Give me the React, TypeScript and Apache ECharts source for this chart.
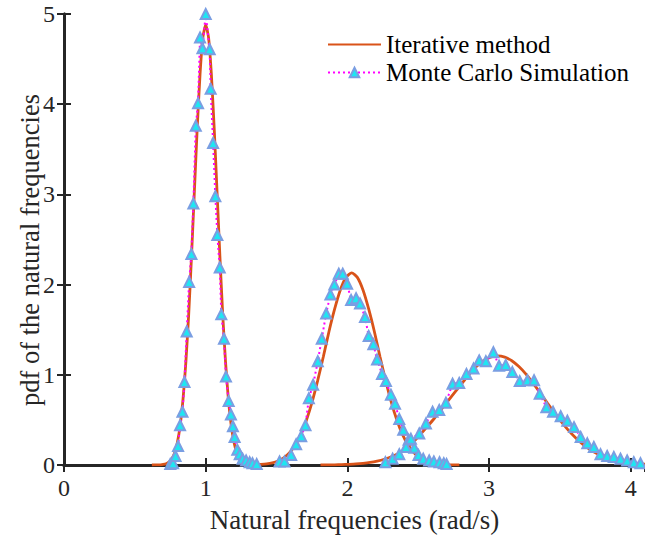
import React, { useEffect, useRef } from "react";
import * as echarts from "echarts";

// Iterative method (three modal pdf curves)
const iterX1 = [0.62,0.66,0.68,0.70,0.72,0.74,0.76,0.78,0.80,0.82,0.84,0.86,0.88,0.90,0.92,0.94,0.96,0.98,1.00,1.02,1.04,1.06,1.08,1.10,1.12,1.14,1.16,1.18,1.20,1.22,1.24,1.26,1.28,1.30,1.32,1.34,1.38];
const iterY1 = [0,0.001,0.002,0.006,0.014,0.032,0.067,0.13,0.25,0.44,0.73,1.14,1.67,2.32,3.03,3.73,4.33,4.74,4.88,4.74,4.33,3.73,3.03,2.32,1.67,1.14,0.73,0.44,0.25,0.13,0.067,0.032,0.014,0.006,0.002,0.001,0];
const iterX2 = [1.27,1.31,1.35,1.39,1.43,1.47,1.51,1.55,1.59,1.63,1.67,1.71,1.75,1.79,1.83,1.87,1.91,1.95,1.99,2.03,2.07,2.11,2.15,2.19,2.23,2.27,2.31,2.35,2.39,2.43,2.47,2.51,2.55,2.59,2.63,2.67,2.71,2.75,2.79];
const iterY2 = [0,0.001,0.003,0.006,0.012,0.024,0.045,0.079,0.134,0.216,0.334,0.493,0.694,0.935,1.20,1.48,1.73,1.94,2.08,2.13,2.08,1.94,1.73,1.48,1.20,0.935,0.694,0.493,0.334,0.216,0.134,0.079,0.045,0.024,0.012,0.006,0.003,0.001,0];
const iterX3 = [1.81,1.86,1.91,1.96,2.01,2.06,2.11,2.16,2.21,2.26,2.31,2.36,2.41,2.46,2.51,2.56,2.61,2.66,2.71,2.76,2.81,2.86,2.91,2.96,3.01,3.06,3.11,3.16,3.21,3.26,3.31,3.36,3.41,3.46,3.51,3.56,3.61,3.66,3.71,3.76,3.81,3.86,3.91,3.96,4.01,4.06,4.11];
const iterY3 = [0,0.001,0.002,0.005,0.008,0.012,0.019,0.029,0.044,0.064,0.091,0.128,0.174,0.25,0.33,0.42,0.51,0.61,0.71,0.81,0.908,1.007,1.091,1.156,1.196,1.21,1.196,1.156,1.091,1.007,0.908,0.800,0.689,0.580,0.477,0.384,0.302,0.232,0.174,0.128,0.091,0.064,0.044,0.029,0.019,0.012,0.008];

// Monte Carlo simulation (histogram pdf points)
const mcX1 = [0.75,0.77,0.787,0.805,0.819,0.836,0.85,0.866,0.883,0.899,0.913,0.930,0.946,0.960,0.977,1.0,1.028,1.035,1.052,1.068,1.082,1.099,1.11,1.129,1.143,1.162,1.178,1.192,1.204,1.223,1.24,1.26,1.285,1.31,1.33,1.36];
const mcY1 = [0.01,0.02,0.10,0.21,0.44,0.59,0.92,1.48,2.03,2.34,2.90,3.76,4.01,4.74,4.62,5.0,4.61,4.17,3.57,2.98,2.55,2.19,1.67,1.40,0.98,0.71,0.56,0.43,0.31,0.17,0.12,0.07,0.05,0.03,0.02,0.01];
const mcX2 = [1.521,1.556,1.603,1.638,1.674,1.704,1.728,1.758,1.791,1.819,1.850,1.880,1.908,1.939,1.967,1.998,2.026,2.061,2.089,2.124,2.150,2.183,2.209,2.244,2.272,2.307,2.336,2.366,2.394,2.432,2.472,2.502,2.535,2.577,2.61,2.65,2.68,2.70];
const mcY2 = [0.04,0.04,0.11,0.23,0.32,0.44,0.74,0.89,1.15,1.40,1.68,1.89,2.0,2.12,2.12,2.01,1.83,1.85,1.79,1.64,1.43,1.34,1.17,1.01,0.93,0.78,0.68,0.51,0.39,0.28,0.19,0.11,0.07,0.05,0.04,0.03,0.02,0.01];
const mcX3 = [2.268,2.319,2.366,2.413,2.448,2.507,2.554,2.601,2.648,2.695,2.742,2.789,2.840,2.890,2.930,2.977,3.030,3.070,3.117,3.164,3.216,3.27,3.317,3.357,3.404,3.451,3.505,3.552,3.599,3.646,3.693,3.739,3.786,3.833,3.880,3.927,3.974,4.021,4.068];
const mcY3 = [0.03,0.07,0.12,0.20,0.29,0.35,0.46,0.59,0.61,0.69,0.90,0.91,1.01,1.07,1.16,1.15,1.25,1.10,1.11,1.03,0.93,0.94,0.94,0.79,0.64,0.59,0.54,0.49,0.42,0.31,0.24,0.20,0.12,0.10,0.09,0.07,0.05,0.03,0.02];

const ITER_NAME = "Iterative method";
const MC_NAME = "Monte Carlo Simulation";
const X_LABEL = "Natural frequencies (rad/s)";
const Y_LABEL = "pdf of the natural frequencies";

const FONT = '"Liberation Serif", "Times New Roman", serif';
const AXIS_COLOR = "#262626";

const zip = (xs: number[], ys: number[]) => xs.map((x, i) => [x, ys[i]]);

export default function App() {
  const ref = useRef<HTMLDivElement>(null);
  useEffect(() => {
    if (!ref.current) return;
    const chart = echarts.init(ref.current, null, { renderer: "svg" });
    const iterSeries = [zip(iterX1, iterY1), zip(iterX2, iterY2), zip(iterX3, iterY3)].map((d) => ({
      name: ITER_NAME,
      type: "line",
      data: d,
      showSymbol: false,
      symbol: "none",
      smooth: 0.2,
      lineStyle: { color: "#D95319", width: 2.8 },
      itemStyle: { color: "#D95319", opacity: 0 },
      z: 2,
    }));
    const mcSeries = [zip(mcX1, mcY1), zip(mcX2, mcY2), zip(mcX3, mcY3)].map((d) => ({
      name: MC_NAME,
      type: "line",
      data: d,
      symbol: "triangle",
      symbolSize: 10,
      clip: false,
      lineStyle: { color: "#FF00FF", width: 2, type: [2, 3] },
      itemStyle: { color: "#1EE6F2", borderColor: "#7A9EE2", borderWidth: 2 },
      z: 3,
    }));
    const axisLine = { show: true, lineStyle: { color: AXIS_COLOR, width: 3 } };
    const axisTick = { show: true, inside: true, length: 7, lineStyle: { color: AXIS_COLOR, width: 2 } };
    chart.setOption({
      animation: false,
      backgroundColor: "#ffffff",
      grid: { left: 64, right: -1, top: 14, bottom: 74, containLabel: false },
      legend: {
        data: [ITER_NAME, MC_NAME],
        orient: "vertical",
        left: 327,
        top: 32,
        padding: 0,
        itemWidth: 53,
        itemHeight: 12,
        itemGap: 3,
        textStyle: { fontFamily: FONT, fontSize: 25, color: "#000" },
      },
      xAxis: [
        {
          type: "value",
          min: 0,
          max: 4.1,
          interval: 1,
          position: "bottom",
          name: X_LABEL,
          nameLocation: "middle",
          nameGap: 41,
          nameTextStyle: { fontFamily: FONT, fontSize: 27, color: AXIS_COLOR },
          axisLine,
          axisTick,
          splitLine: { show: false },
          axisLabel: { fontFamily: FONT, fontSize: 24, color: AXIS_COLOR, margin: 11, showMaxLabel: false },
        },
        {
          type: "value",
          min: 0,
          max: 4.1,
          interval: 1,
          position: "top",
          axisLine,
          axisTick,
          splitLine: { show: false },
          axisLabel: { show: false },
        },
      ],
      yAxis: [
        {
          type: "value",
          min: 0,
          max: 5,
          interval: 1,
          position: "left",
          axisLine,
          axisTick,
          splitLine: { show: false },
          axisLabel: { fontFamily: FONT, fontSize: 24, color: AXIS_COLOR, margin: 9 },
        },
        {
          type: "value",
          min: 0,
          max: 5,
          interval: 1,
          position: "right",
          axisLine,
          axisTick,
          splitLine: { show: false },
          axisLabel: { show: false },
        },
      ],
      graphic: [
        {
          type: "text",
          x: 30,
          y: 250,
          rotation: Math.PI / 2,
          style: {
            text: Y_LABEL,
            font: `26.5px ${FONT}`,
            fill: AXIS_COLOR,
            align: "center",
            verticalAlign: "middle",
          },
        },
      ],
      series: [...iterSeries, ...mcSeries],
    });
    return () => chart.dispose();
  }, []);
  return (
    <div
      ref={ref}
      style={{ position: "absolute", left: 0, top: 0, width: 645, height: 539, background: "#fff" }}
    />
  );
}
